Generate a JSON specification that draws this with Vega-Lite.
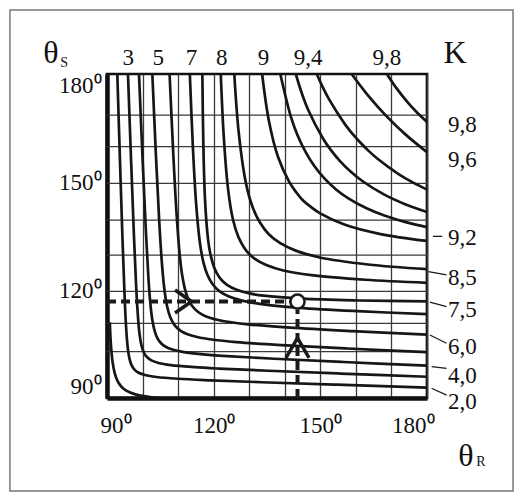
{
  "$schema": "https://vega.github.io/schema/vega-lite/v6.json",
  "width": 320,
  "height": 324,
  "autosize": {"type": "none"},
  "padding": {"left": 107, "top": 74, "right": 98, "bottom": 103},
  "background": "white",
  "config": {
    "view": {"stroke": "#111", "strokeWidth": 2.7},
    "font": "Liberation Serif",
    "axis": {"labelOverlap": false, "labelBound": false, "ticks": false, "gridColor": "#3a3a3a", "gridWidth": 1.3,
      "domainColor": "#111", "domainWidth": 4.5, "labelFont": "Liberation Serif", "labelFontSize": 23, "labelColor": "#111", "title": null}
  },
  "datasets": {
    "hgrid": [{"S": 168.6}, {"S": 159.8}, {"S": 149.6}, {"S": 139.4}, {"S": 129.7}, {"S": 119.6}, {"S": 110.75}, {"S": 102.9}],
    "curves": [
      {"c":0,"i":0,"R":90.79,"S":111},{"c":0,"i":1,"R":91.09,"S":105},{"c":0,"i":2,"R":91.57,"S":100},{"c":0,"i":3,"R":92.15,"S":97},{"c":0,"i":4,"R":92.84,"S":95},{"c":0,"i":5,"R":93.74,"S":93.5},{"c":0,"i":6,"R":94.76,"S":92.5},{"c":0,"i":7,"R":96.52,"S":91.5},{"c":0,"i":8,"R":98,"S":91},{"c":0,"i":9,"R":100.35,"S":90.5},{"c":0,"i":10,"R":102.57,"S":90.2},{"c":0,"i":11,"R":104.67,"S":90},
      {"c":1,"i":0,"R":92.9,"S":180},{"c":1,"i":1,"R":93.69,"S":154.61},{"c":1,"i":2,"R":94.38,"S":133.45},{"c":1,"i":3,"R":94.92,"S":119.06},{"c":1,"i":4,"R":95.35,"S":110.0},{"c":1,"i":5,"R":95.84,"S":103.9},{"c":1,"i":6,"R":96.37,"S":100.73},{"c":1,"i":7,"R":97.01,"S":98.9},{"c":1,"i":8,"R":97.8,"S":97.8},{"c":1,"i":9,"R":98.9,"S":97.01},{"c":1,"i":10,"R":100.73,"S":96.37},{"c":1,"i":11,"R":103.9,"S":95.84},{"c":1,"i":12,"R":110.0,"S":95.35},{"c":1,"i":13,"R":119.06,"S":94.92},{"c":1,"i":14,"R":133.45,"S":94.38},{"c":1,"i":15,"R":154.61,"S":93.69},{"c":1,"i":16,"R":180,"S":92.9},
      {"c":2,"i":0,"R":95.9,"S":180},{"c":2,"i":1,"R":96.79,"S":155.6},{"c":2,"i":2,"R":97.57,"S":135.26},{"c":2,"i":3,"R":98.18,"S":121.43},{"c":2,"i":4,"R":98.57,"S":114.55},{"c":2,"i":5,"R":99.13,"S":107.93},{"c":2,"i":6,"R":99.73,"S":104.48},{"c":2,"i":7,"R":100.44,"S":102.49},{"c":2,"i":8,"R":101.3,"S":101.3},{"c":2,"i":9,"R":102.49,"S":100.44},{"c":2,"i":10,"R":104.48,"S":99.73},{"c":2,"i":11,"R":107.93,"S":99.13},{"c":2,"i":12,"R":114.55,"S":98.57},{"c":2,"i":13,"R":121.43,"S":98.18},{"c":2,"i":14,"R":135.26,"S":97.57},{"c":2,"i":15,"R":155.6,"S":96.79},{"c":2,"i":16,"R":180,"S":95.9},
      {"c":3,"i":0,"R":99.0,"S":180},{"c":3,"i":1,"R":100.0,"S":156.59},{"c":3,"i":2,"R":100.9,"S":137.09},{"c":3,"i":3,"R":101.62,"S":123.83},{"c":3,"i":4,"R":102.17,"S":116.47},{"c":3,"i":5,"R":102.75,"S":111.64},{"c":3,"i":6,"R":103.45,"S":108.42},{"c":3,"i":7,"R":104.24,"S":106.49},{"c":3,"i":8,"R":105.2,"S":105.2},{"c":3,"i":9,"R":106.49,"S":104.24},{"c":3,"i":10,"R":108.42,"S":103.45},{"c":3,"i":11,"R":111.64,"S":102.75},{"c":3,"i":12,"R":116.47,"S":102.17},{"c":3,"i":13,"R":123.83,"S":101.62},{"c":3,"i":14,"R":137.09,"S":100.9},{"c":3,"i":15,"R":156.59,"S":100.0},{"c":3,"i":16,"R":180,"S":99.0},
      {"c":4,"i":0,"R":102.75,"S":180},{"c":4,"i":1,"R":103.75,"S":157.65},{"c":4,"i":2,"R":104.69,"S":139.02},{"c":4,"i":3,"R":105.53,"S":126.35},{"c":4,"i":4,"R":106.18,"S":119.88},{"c":4,"i":5,"R":106.93,"S":115.35},{"c":4,"i":6,"R":107.78,"S":112.48},{"c":4,"i":7,"R":108.74,"S":110.63},{"c":4,"i":8,"R":109.6,"S":109.6},{"c":4,"i":9,"R":110.63,"S":108.74},{"c":4,"i":10,"R":112.48,"S":107.78},{"c":4,"i":11,"R":115.35,"S":106.93},{"c":4,"i":12,"R":119.88,"S":106.18},{"c":4,"i":13,"R":126.35,"S":105.53},{"c":4,"i":14,"R":139.02,"S":104.69},{"c":4,"i":15,"R":157.65,"S":103.75},{"c":4,"i":16,"R":180,"S":102.75},
      {"c":5,"i":0,"R":107.6,"S":180},{"c":5,"i":1,"R":108.58,"S":159.02},{"c":5,"i":2,"R":109.54,"S":141.54},{"c":5,"i":3,"R":110.46,"S":129.65},{"c":5,"i":4,"R":111.17,"S":123.96},{"c":5,"i":5,"R":112.17,"S":119.33},{"c":5,"i":6,"R":113.17,"S":116.78},{"c":5,"i":7,"R":114.7,"S":114.7},{"c":5,"i":8,"R":116.78,"S":113.17},{"c":5,"i":9,"R":119.33,"S":112.17},{"c":5,"i":10,"R":123.96,"S":111.17},{"c":5,"i":11,"R":129.65,"S":110.46},{"c":5,"i":12,"R":141.54,"S":109.54},{"c":5,"i":13,"R":159.02,"S":108.58},{"c":5,"i":14,"R":180,"S":107.6},
      {"c":6,"i":0,"R":113.3,"S":180},{"c":6,"i":1,"R":114.12,"S":160.41},{"c":6,"i":2,"R":115.06,"S":144.08},{"c":6,"i":3,"R":116.15,"S":132.98},{"c":6,"i":4,"R":117.12,"S":127.69},{"c":6,"i":5,"R":118.26,"S":124.15},{"c":6,"i":6,"R":119.57,"S":121.78},{"c":6,"i":7,"R":120.6,"S":120.6},{"c":6,"i":8,"R":121.78,"S":119.57},{"c":6,"i":9,"R":124.15,"S":118.26},{"c":6,"i":10,"R":127.69,"S":117.12},{"c":6,"i":11,"R":132.98,"S":116.15},{"c":6,"i":12,"R":144.08,"S":115.06},{"c":6,"i":13,"R":160.41,"S":114.12},{"c":6,"i":14,"R":180,"S":113.3},
      {"c":7,"i":0,"R":116.82,"S":180},{"c":7,"i":1,"R":117.09,"S":160.86},{"c":7,"i":2,"R":117.58,"S":144.91},{"c":7,"i":3,"R":118.42,"S":134.06},{"c":7,"i":4,"R":119.06,"S":130.06},{"c":7,"i":5,"R":120.14,"S":126.28},{"c":7,"i":6,"R":121.45,"S":123.76},{"c":7,"i":7,"R":122.5,"S":122.5},{"c":7,"i":8,"R":123.76,"S":121.45},{"c":7,"i":9,"R":126.28,"S":120.14},{"c":7,"i":10,"R":130.06,"S":119.06},{"c":7,"i":11,"R":134.06,"S":118.42},{"c":7,"i":12,"R":144.91,"S":117.58},{"c":7,"i":13,"R":160.86,"S":117.09},{"c":7,"i":14,"R":180,"S":116.82},
      {"c":8,"i":0,"R":122.0,"S":180},{"c":8,"i":1,"R":122.84,"S":162.6},{"c":8,"i":2,"R":124.04,"S":148.11},{"c":8,"i":3,"R":125.43,"S":139.59},{"c":8,"i":4,"R":126.93,"S":134.79},{"c":8,"i":5,"R":128.67,"S":131.6},{"c":8,"i":6,"R":130,"S":130},{"c":8,"i":7,"R":131.6,"S":128.67},{"c":8,"i":8,"R":134.79,"S":126.93},{"c":8,"i":9,"R":139.59,"S":125.43},{"c":8,"i":10,"R":148.11,"S":124.04},{"c":8,"i":11,"R":162.6,"S":122.84},{"c":8,"i":12,"R":180,"S":122.0},
      {"c":9,"i":0,"R":125.8,"S":180},{"c":9,"i":1,"R":127.08,"S":163.41},{"c":9,"i":2,"R":129.1,"S":149.55},{"c":9,"i":3,"R":130.94,"S":143.07},{"c":9,"i":4,"R":133.02,"S":138.74},{"c":9,"i":5,"R":135.5,"S":135.5},{"c":9,"i":6,"R":138.74,"S":133.02},{"c":9,"i":7,"R":143.07,"S":130.94},{"c":9,"i":8,"R":149.55,"S":129.1},{"c":9,"i":9,"R":163.41,"S":127.08},{"c":9,"i":10,"R":180,"S":125.8},
      {"c":10,"i":0,"R":133.63,"S":180},{"c":10,"i":1,"R":135.54,"S":166.95},{"c":10,"i":2,"R":138.11,"S":156.95},{"c":10,"i":3,"R":141.29,"S":149.95},{"c":10,"i":4,"R":143.21,"S":147.15},{"c":10,"i":5,"R":145,"S":145},{"c":10,"i":6,"R":147.15,"S":143.21},{"c":10,"i":7,"R":149.95,"S":141.29},{"c":10,"i":8,"R":156.95,"S":138.11},{"c":10,"i":9,"R":166.95,"S":135.54},{"c":10,"i":10,"R":180,"S":133.63},
      {"c":11,"i":0,"R":138.74,"S":180},{"c":11,"i":1,"R":141.75,"S":168},{"c":11,"i":2,"R":143.59,"S":163},{"c":11,"i":3,"R":146.03,"S":158},{"c":11,"i":4,"R":148.26,"S":154.5},{"c":11,"i":5,"R":151.07,"S":151.07},{"c":11,"i":6,"R":154.5,"S":147.87},{"c":11,"i":7,"R":158,"S":145.38},{"c":11,"i":8,"R":163,"S":142.7},{"c":11,"i":9,"R":168,"S":140.69},{"c":11,"i":10,"R":174,"S":138.86},{"c":11,"i":11,"R":180,"S":137.46},
      {"c":12,"i":0,"R":143.1,"S":180},{"c":12,"i":1,"R":144.67,"S":175},{"c":12,"i":2,"R":146.6,"S":170},{"c":12,"i":3,"R":150.79,"S":162},{"c":12,"i":4,"R":152.87,"S":159},{"c":12,"i":5,"R":155.67,"S":155.67},{"c":12,"i":6,"R":158.5,"S":152.92},{"c":12,"i":7,"R":162,"S":150.14},{"c":12,"i":8,"R":168,"S":146.49},{"c":12,"i":9,"R":174,"S":143.78},{"c":12,"i":10,"R":180,"S":141.69},
      {"c":13,"i":0,"R":149,"S":180},{"c":13,"i":1,"R":150.6,"S":176.5},{"c":13,"i":2,"R":152.43,"S":173},{"c":13,"i":3,"R":156.95,"S":166},{"c":13,"i":4,"R":158.94,"S":163.5},{"c":13,"i":5,"R":161.1,"S":161.1},{"c":13,"i":6,"R":163.5,"S":158.71},{"c":13,"i":7,"R":166,"S":156.52},{"c":13,"i":8,"R":172,"S":152.21},{"c":13,"i":9,"R":176,"S":149.88},{"c":13,"i":10,"R":180,"S":147.89},
      {"c":14,"i":0,"R":158.8,"S":180},{"c":14,"i":1,"R":163.45,"S":174},{"c":14,"i":2,"R":168.45,"S":168.45},{"c":14,"i":3,"R":174,"S":163.16},{"c":14,"i":4,"R":180,"S":158.28},
      {"c":15,"i":0,"R":168.7,"S":180},{"c":15,"i":1,"R":171.45,"S":176},{"c":15,"i":2,"R":174.69,"S":172},{"c":15,"i":3,"R":177,"S":169.52},{"c":15,"i":4,"R":180,"S":166.69}
    ],
    "dash": [
      {"R": 90, "S": 116.8, "R2": 141.4, "S2": 116.8},
      {"R": 143.58, "S": 90, "R2": 143.58, "S2": 114.6}
    ],
    "arrowRight": [{"R": 111.46, "S": 116.8}],
    "arrowUp": [{"R": 143.58, "S": 103.9}],
    "point": [{"R": 143.58, "S": 116.8}],
    "topLabels": [
      {"K": "3", "R": 96.0}, {"K": "5", "R": 104.4}, {"K": "7", "R": 113.8}, {"K": "8", "R": 122.3},
      {"K": "9", "R": 134.0}, {"K": "9,4", "R": 146.6}, {"K": "9,8", "R": 168.7}
    ],
    "rightLabels": [
      {"K": "9,8", "S": 165.8}, {"K": "9,6", "S": 156.1}, {"K": "9,2", "S": 134.4}, {"K": "8,5", "S": 123.3},
      {"K": "7,5", "S": 114.4}, {"K": "6,0", "S": 104.2}, {"K": "4,0", "S": 96.1}, {"K": "2,0", "S": 88.9}
    ],
    "leaders": [
      {"K": "9,2", "R": 181.7, "S": 134.9, "R2": 184.3, "S2": 134.9},
      {"K": "8,5", "R": 180.4, "S": 125.1, "R2": 185.5, "S2": 124.2},
      {"K": "7,5", "R": 180.8, "S": 116.6, "R2": 185.5, "S2": 115.4},
      {"K": "6,0", "R": 180.8, "S": 107.5, "R2": 185.5, "S2": 105.2},
      {"K": "4,0", "R": 181.3, "S": 98.7, "R2": 185.5, "S2": 98.25},
      {"K": "2,0", "R": 181.3, "S": 92.7, "R2": 185.5, "S2": 90.8}
    ],
    "titles": [
      {"t": "θ", "R": 74.19, "S": 185.75},
      {"t": "θ", "R": 190.91, "S": 73.94},
      {"t": "K", "R": 187.87, "S": 185.83}
    ],
    "subs": [
      {"t": "S", "R": 77.96, "S": 183.19},
      {"t": "R", "R": 195.19, "S": 72.22}
    ],
    "frame": [{"R": 62.7, "R2": 204.2, "S": 64.2, "S2": 197.8}]
  },
  "layer": [
    {
      "data": {"name": "hgrid"},
      "mark": {"type": "rule", "stroke": "#3a3a3a", "strokeWidth": 1.3},
      "encoding": {
        "x": {"datum": 90}, "x2": {"datum": 180},
        "y": {"field": "S", "type": "quantitative", "title": null}
      }
    },
    {
      "data": {"name": "curves"},
      "mark": {"type": "line", "interpolate": "catmull-rom", "stroke": "#161616", "strokeWidth": 2.7},
      "encoding": {
        "x": {"field": "R", "type": "quantitative", "title": null, "scale": {"domain": [90, 180], "nice": false, "zero": false},
          "axis": {"values": [90, 100, 110, 120, 130, 140, 150, 160, 170, 180], "tickCount": 12, "grid": true,
            "labelExpr": "datum.value % 30 === 0 ? datum.value + '⁰' : ''",
            "labelOverlap": false, "labelPadding": 16, "labelFlush": true, "labelFlushOffset": 7}},
        "y": {"field": "S", "type": "quantitative", "title": null, "scale": {"domain": [90, 180], "nice": false, "zero": false},
          "axis": {"values": [90, 120, 150, 180], "tickCount": 12, "grid": false,
            "labelExpr": "datum.value + '⁰'",
            "labelOverlap": false, "labelPadding": 6, "labelFlush": true}},
        "detail": {"field": "c", "type": "nominal"},
        "order": {"field": "i", "type": "quantitative"}
      }
    },
    {
      "data": {"name": "dash"},
      "mark": {"type": "rule", "stroke": "#1a1a1a", "strokeWidth": 4, "strokeDash": [9, 5]},
      "encoding": {
        "x": {"field": "R", "type": "quantitative", "title": null}, "x2": {"field": "R2"},
        "y": {"field": "S", "type": "quantitative", "title": null}, "y2": {"field": "S2"}
      }
    },
    {
      "data": {"name": "arrowRight"},
      "mark": {"type": "point", "shape": "M-0.72,-1L0.72,0L-0.72,1", "size": 529, "filled": false, "stroke": "#1a1a1a", "strokeWidth": 3.5, "opacity": 1},
      "encoding": {"x": {"field": "R", "type": "quantitative", "title": null}, "y": {"field": "S", "type": "quantitative", "title": null}}
    },
    {
      "data": {"name": "arrowUp"},
      "mark": {"type": "point", "shape": "M-1,0.87L0,-0.87L1,0.87", "size": 529, "filled": false, "stroke": "#1a1a1a", "strokeWidth": 3.5, "opacity": 1},
      "encoding": {"x": {"field": "R", "type": "quantitative", "title": null}, "y": {"field": "S", "type": "quantitative", "title": null}}
    },
    {
      "data": {"name": "point"},
      "mark": {"type": "point", "shape": "circle", "size": 200, "filled": true, "fill": "white", "stroke": "#1a1a1a", "strokeWidth": 2.5, "opacity": 1},
      "encoding": {"x": {"field": "R", "type": "quantitative", "title": null}, "y": {"field": "S", "type": "quantitative", "title": null}}
    },
    {
      "data": {"name": "topLabels"},
      "mark": {"type": "text", "font": "Liberation Serif", "fontSize": 23, "fill": "#111", "align": "center", "baseline": "alphabetic", "dy": -9},
      "encoding": {"x": {"field": "R", "type": "quantitative", "title": null}, "y": {"datum": 180}, "text": {"field": "K"}}
    },
    {
      "data": {"name": "rightLabels"},
      "mark": {"type": "text", "font": "Liberation Serif", "fontSize": 23, "fill": "#111", "align": "left", "baseline": "middle", "dx": 21},
      "encoding": {"x": {"datum": 180}, "y": {"field": "S", "type": "quantitative", "title": null}, "text": {"field": "K"}}
    },
    {
      "data": {"name": "leaders"},
      "mark": {"type": "rule", "stroke": "#1a1a1a", "strokeWidth": 1.3},
      "encoding": {
        "x": {"field": "R", "type": "quantitative", "title": null}, "x2": {"field": "R2"},
        "y": {"field": "S", "type": "quantitative", "title": null}, "y2": {"field": "S2"}
      }
    },
    {
      "data": {"name": "titles"},
      "mark": {"type": "text", "font": "Liberation Serif", "fontSize": 32, "fill": "#111", "align": "center", "baseline": "middle"},
      "encoding": {"x": {"field": "R", "type": "quantitative", "title": null}, "y": {"field": "S", "type": "quantitative", "title": null}, "text": {"field": "t"}}
    },
    {
      "data": {"name": "subs"},
      "mark": {"type": "text", "font": "Liberation Serif", "fontSize": 14, "fill": "#111", "align": "center", "baseline": "middle"},
      "encoding": {"x": {"field": "R", "type": "quantitative", "title": null}, "y": {"field": "S", "type": "quantitative", "title": null}, "text": {"field": "t"}}
    },
    {
      "data": {"name": "frame"},
      "mark": {"type": "rect", "fillOpacity": 0, "stroke": "#777", "strokeWidth": 1.5},
      "encoding": {
        "x": {"field": "R", "type": "quantitative", "title": null}, "x2": {"field": "R2"},
        "y": {"field": "S", "type": "quantitative", "title": null}, "y2": {"field": "S2"}
      }
    }
  ]
}
